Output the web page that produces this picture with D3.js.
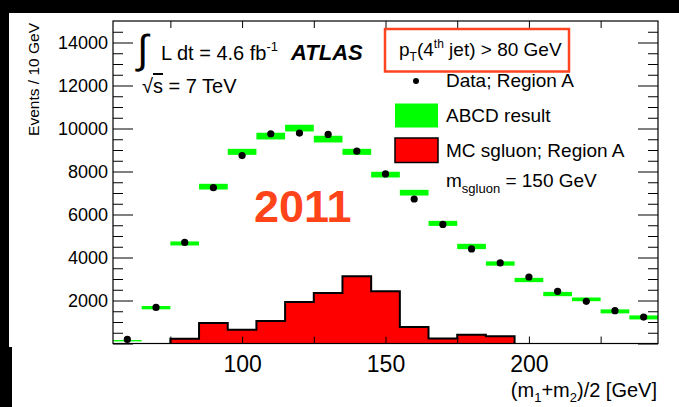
<!DOCTYPE html>
<html>
<head>
<meta charset="utf-8">
<script src="https://cdn.jsdelivr.net/npm/d3@7"></script>
<style>
  html, body { margin: 0; padding: 0; background: #fff; }
  svg { display: block; }
  text { font-family: "Liberation Sans", Arial, Helvetica, sans-serif; fill: #000; }
</style>
</head>
<body>
<svg id="chart" width="679" height="407"></svg>
<script>
// ---- data ----
const binEdgesLo = [55, 65, 75, 85, 95, 105, 115, 125, 135, 145, 155, 165, 175, 185, 195, 205, 215, 225, 235];
const binWidth = 10;
const abcdResult = [130, 1666, 4653, 7295, 8914, 9646, 10019, 9506, 8914, 7855, 7015, 5587, 4513, 3720, 2954, 2301, 2054, 1494, 1213];
const abcdError  = [30, 77, 93, 133, 140, 156, 156, 156, 140, 133, 133, 117, 124, 100, 100, 100, 86, 93, 93];
const dataRegionA = [190, 1680, 4700, 7250, 8742, 9755, 9785, 9723, 8946, 7887, 6721, 5540, 4401, 3748, 3094, 2427, 1960, 1526, 1228];
const mcSgluon = [0, 0, 220, 948, 640, 1042, 1929, 2349, 3127, 2427, 762, 233, 404, 342, 0, 0, 0, 0, 0];
const yMajorTicks = [0, 2000, 4000, 6000, 8000, 10000, 12000, 14000];
const yTickLabels = [2000, 4000, 6000, 8000, 10000, 12000, 14000];
const xTicks = [75, 100, 125, 150, 175, 200, 225];
const xTickLabels = [100, 150, 200];

// ---- layout ----
const svg = d3.select("#chart");
const L = 113, R = 658, T = 21, B = 343.5;
const x = d3.scaleLinear().domain([55, 245]).range([L, R]);
const y = d3.scaleLinear().domain([0, 15000]).range([B, T]);

svg.append("rect").attr("width", 679).attr("height", 407).attr("fill", "#fff");
// black border bands of the original picture
svg.append("rect").attr("x", 0).attr("y", 0).attr("width", 679).attr("height", 13).attr("fill", "#000");
svg.append("rect").attr("x", 0).attr("y", 0).attr("width", 9).attr("height", 347).attr("fill", "#000");
svg.append("rect").attr("x", 0).attr("y", 347).attr("width", 12).attr("height", 60).attr("fill", "#000");

// ---- MC histogram ----
const pts = [];
const first = mcSgluon.findIndex(v => v > 0);
let last = -1; mcSgluon.forEach((v, i) => { if (v > 0) last = i; });
pts.push([binEdgesLo[first], 0]);
for (let i = first; i <= last; i++) {
  pts.push([binEdgesLo[i], mcSgluon[i]]);
  pts.push([binEdgesLo[i] + binWidth, mcSgluon[i]]);
}
pts.push([binEdgesLo[last] + binWidth, 0]);
const line = d3.line().x(d => x(d[0])).y(d => y(d[1]));
svg.append("path").attr("d", line(pts) + "Z").attr("fill", "#ff0000").attr("stroke", "none");
svg.append("path").attr("d", line(pts)).attr("fill", "none").attr("stroke", "#000").attr("stroke-width", 2);

// ---- ABCD bands ----
svg.append("g").selectAll("rect").data(abcdResult).join("rect")
  .attr("x", (d, i) => x(binEdgesLo[i]))
  .attr("width", (d, i) => x(binEdgesLo[i] + binWidth) - x(binEdgesLo[i]))
  .attr("y", (d, i) => y(d + abcdError[i]))
  .attr("height", (d, i) => Math.max(1.3, y(d - abcdError[i]) - y(d + abcdError[i])))
  .attr("fill", "#00ff00");

// ---- data points ----
svg.append("g").selectAll("circle").data(dataRegionA).join("circle")
  .attr("cx", (d, i) => x(binEdgesLo[i] + binWidth / 2))
  .attr("cy", d => y(d))
  .attr("r", 3.6)
  .attr("fill", "#000");

// ---- axes ----
const fontStack = '"Liberation Sans", Arial, Helvetica, sans-serif';
function styleAxis(g) {
  g.select(".domain").remove();
  g.selectAll("line").attr("stroke", "#000").attr("stroke-width", 1);
  g.selectAll("text").attr("font-family", fontStack).attr("fill", "#000");
}
const yMinorTicks = d3.range(500, 15000, 500).filter(v => v % 2000 !== 0);

svg.append("g").attr("transform", `translate(${L},0)`)
  .call(d3.axisLeft(y).tickValues(yMajorTicks).tickSize(-20).tickPadding(5)
    .tickFormat(d => yTickLabels.includes(d) ? d3.format("d")(d) : ""))
  .call(styleAxis)
  .call(g => g.selectAll("text").attr("font-size", 18));
svg.append("g").attr("transform", `translate(${L},0)`)
  .call(d3.axisLeft(y).tickValues(yMinorTicks).tickSize(-10).tickFormat(""))
  .call(styleAxis);
svg.append("g").attr("transform", `translate(${R},0)`)
  .call(d3.axisRight(y).tickValues(yMajorTicks).tickSize(-20).tickFormat(""))
  .call(styleAxis);
svg.append("g").attr("transform", `translate(${R},0)`)
  .call(d3.axisRight(y).tickValues(yMinorTicks).tickSize(-10).tickFormat(""))
  .call(styleAxis);

svg.append("g").attr("transform", `translate(0,${B})`)
  .call(d3.axisBottom(x).tickValues(xTicks).tickSize(-7).tickPadding(12)
    .tickFormat(d => xTickLabels.includes(d) ? d : ""))
  .call(styleAxis)
  .call(g => g.selectAll("text").attr("font-size", 23));
svg.append("g").attr("transform", `translate(0,${T})`)
  .call(d3.axisTop(x).tickValues(xTicks).tickSize(-7).tickFormat(""))
  .call(styleAxis);

svg.append("rect").attr("x", L).attr("y", T).attr("width", R - L).attr("height", B - T)
  .attr("fill", "none").attr("stroke", "#000").attr("stroke-width", 1.2);

// ---- axis titles ----
svg.append("text").attr("transform", "translate(38.5,23) rotate(-90)")
  .attr("text-anchor", "end").attr("font-size", 15.5).text("Events / 10 GeV");

const xt = svg.append("text").attr("x", 657).attr("y", 397).attr("text-anchor", "end").attr("font-size", 20);
xt.append("tspan").text("(m");
xt.append("tspan").attr("font-size", 13).attr("dy", 5).text("1");
xt.append("tspan").attr("dy", -5).text("+m");
xt.append("tspan").attr("font-size", 13).attr("dy", 5).text("2");
xt.append("tspan").attr("dy", -5).text(")/2 [GeV]");

// ---- labels ----
svg.append("text").attr("x", 137).attr("y", 63).attr("font-size", 40)
  .attr("font-family", '"DejaVu Sans", sans-serif').text("∫");
const lum = svg.append("text").attr("x", 161).attr("y", 60).attr("font-size", 20);
lum.append("tspan").text("L dt = 4.6 fb");
lum.append("tspan").attr("font-size", 13).attr("dy", -9).text("-1");
svg.append("text").attr("x", 291).attr("y", 59.5).attr("font-size", 22)
  .attr("font-weight", "bold").attr("font-style", "italic").text("ATLAS");
const rs = svg.append("text").attr("x", 142).attr("y", 93).attr("font-size", 20);
rs.append("tspan").text("√");
rs.append("tspan").attr("style", "text-decoration: overline").text("s");
rs.append("tspan").text(" = 7 TeV");

svg.append("text").attr("x", 254).attr("y", 221.5).attr("font-size", 45)
  .attr("font-weight", "bold").style("fill", "#ff4419").text("2011");

// ---- legend ----
svg.append("rect").attr("x", 385).attr("y", 29).attr("width", 184).attr("height", 42.5)
  .attr("fill", "#fff").attr("stroke", "#ff4422").attr("stroke-width", 2.5);
const pt = svg.append("text").attr("x", 399).attr("y", 56).attr("font-size", 19);
pt.append("tspan").text("p");
pt.append("tspan").attr("font-size", 12).attr("dy", 5).text("T");
pt.append("tspan").attr("dy", -5).text("(4");
pt.append("tspan").attr("font-size", 12).attr("dy", -8).text("th");
pt.append("tspan").attr("dy", 8).text(" jet) > 80 GeV");

svg.append("circle").attr("cx", 416).attr("cy", 81).attr("r", 3).attr("fill", "#000");
svg.append("text").attr("x", 446).attr("y", 87).attr("font-size", 19).text("Data; Region A");
svg.append("rect").attr("x", 395).attr("y", 103.5).attr("width", 43).attr("height", 24).attr("fill", "#00ff00");
svg.append("text").attr("x", 446).attr("y", 122).attr("font-size", 19).text("ABCD result");
svg.append("rect").attr("x", 395).attr("y", 138).attr("width", 43).attr("height", 24.5)
  .attr("fill", "#ff0000").attr("stroke", "#000").attr("stroke-width", 1.5);
svg.append("text").attr("x", 446).attr("y", 157).attr("font-size", 19).text("MC sgluon; Region A");
const ms = svg.append("text").attr("x", 446).attr("y", 187).attr("font-size", 19);
ms.append("tspan").text("m");
ms.append("tspan").attr("font-size", 13).attr("dy", 6).text("sgluon");
ms.append("tspan").attr("dy", -6).text(" = 150 GeV");
</script>
</body>
</html>
